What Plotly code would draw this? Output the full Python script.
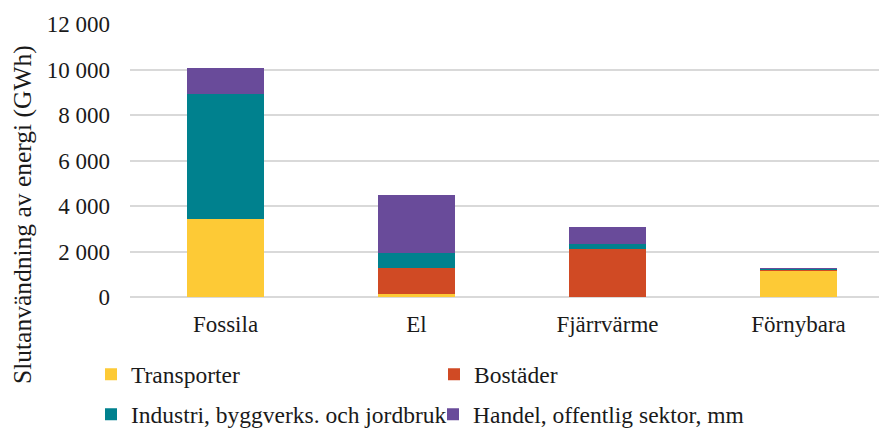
import plotly.graph_objects as go

categories = ["Fossila", "El", "Fjärrvärme", "Förnybara"]
series_names = ["Transporter", "Bostäder", "Industri, byggverks. och jordbruk", "Handel, offentlig sektor, mm"]
transporter = [3430, 130, 0, 1160]
bostader = [0, 1160, 2100, 60]
industri = [5490, 640, 220, 40]
handel = [1150, 2570, 740, 10]
colors = ["#FDCA36", "#D04A24", "#00818E", "#694B9A"]
tick_vals = [0, 2000, 4000, 6000, 8000, 10000, 12000]
tick_text = ["0", "2 000", "4 000", "6 000", "8 000", "10 000", "12 000"]
y_title = "Slutanvändning av energi (GWh)"

FONT = "Liberation Serif, Times New Roman, serif"
W, H = 879, 420
L, T, B = 122, 16, 131
PW = W - L
PH = H - T - B
CAT_PX = 191

legend_ids = ["legend", "legend", "legend2", "legend2"]

fig = go.Figure()
for name, vals, col, lg in zip(series_names, [transporter, bostader, industri, handel], colors, legend_ids):
    fig.add_trace(go.Bar(x=categories, y=vals, name=name, legend=lg,
                         marker=dict(color=col, line=dict(width=0))))

legend_common = dict(
    orientation="h", xref="container", yref="container",
    xanchor="left", yanchor="top", entrywidthmode="pixels",
    font=dict(family=FONT, size=23.5, color="#1a1a1a"),
    traceorder="normal", itemwidth=30, bgcolor="rgba(0,0,0,0)",
)

fig.update_layout(
    width=W, height=H,
    barmode="stack", bargap=0.6,
    paper_bgcolor="white", plot_bgcolor="white",
    margin=dict(l=L, r=0, t=T, b=B),
    font=dict(family=FONT, size=23, color="#1a1a1a"),
    showlegend=True,
    legend=dict(legend_common, x=83 / W, y=1 - 344.5 / H, entrywidth=298),
    legend2=dict(legend_common, x=83 / W, y=1 - 384.5 / H, entrywidth=297),
    xaxis=dict(range=[-0.5, -0.5 + PW / CAT_PX], showgrid=False, showline=False, ticks="",
               ticklabelstandoff=11, tickfont=dict(size=23)),
    yaxis=dict(range=[0, 12000], tickvals=tick_vals, ticktext=tick_text,
               showgrid=True, gridcolor="#D9D9D9", gridwidth=1.5,
               zeroline=True, zerolinecolor="#D9D9D9", zerolinewidth=1.5,
               showline=False, ticks="", ticklabelstandoff=19, tickfont=dict(size=23)),
    annotations=[dict(text=y_title, textangle=-90, xref="paper", yref="paper",
                      x=(14 - L) / PW, y=(T + PH - 207) / PH,
                      xanchor="center", yanchor="middle", showarrow=False,
                      font=dict(family=FONT, size=25.5, color="#1a1a1a"))],
)

fig.write_html("out.html")
